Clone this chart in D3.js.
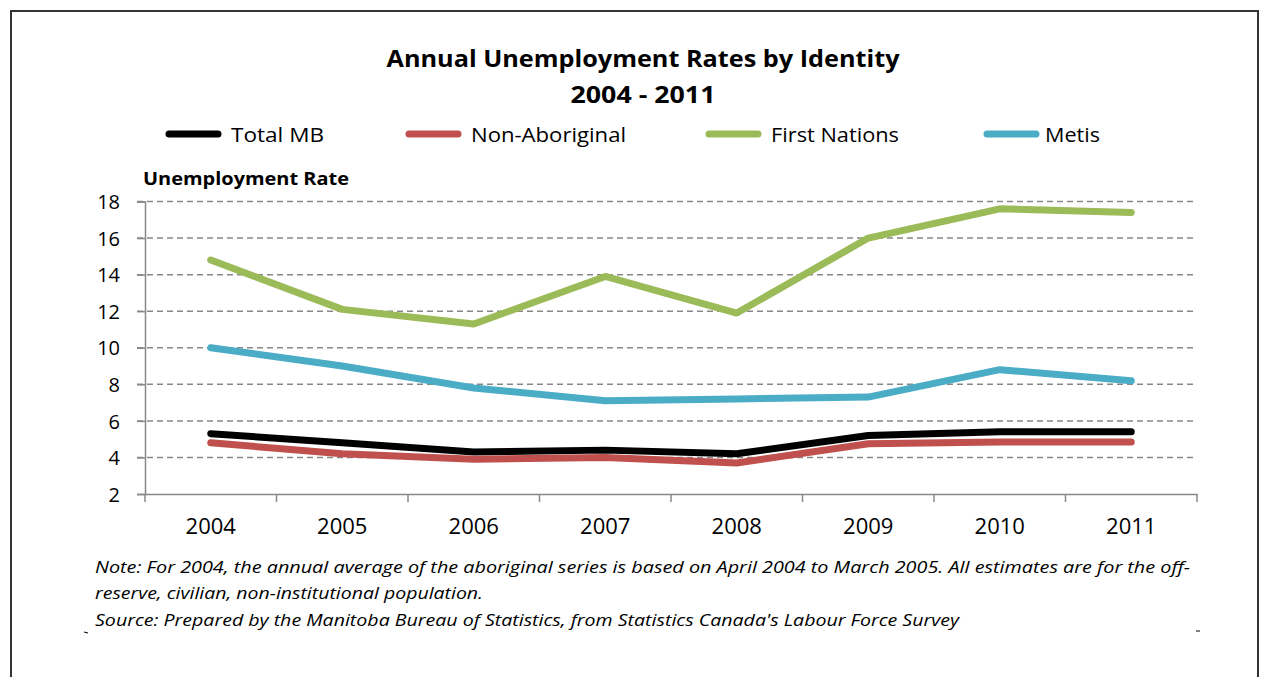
<!DOCTYPE html>
<html><head><meta charset="utf-8">
<script src="https://cdn.jsdelivr.net/npm/d3@7"></script>
<style>body{margin:0;background:#fff}svg{display:block}text{font-family:"Open Sans","Noto Sans",sans-serif;fill:#000}</style>
</head><body><svg id="c" width="1264" height="677"></svg>
<script>
const years = ["2004","2005","2006","2007","2008","2009","2010","2011"];
const totalMB = [5.3, 4.8, 4.3, 4.4, 4.2, 5.2, 5.4, 5.4];
const nonAboriginal = [4.8, 4.2, 3.9, 4.0, 3.7, 4.75, 4.85, 4.85];
const firstNations = [14.8, 12.1, 11.3, 13.9, 11.9, 16.0, 17.6, 17.4];
const metis = [10.0, 9.0, 7.8, 7.1, 7.2, 7.3, 8.8, 8.2];
const seriesNames = ["Total MB","Non-Aboriginal","First Nations","Metis"];
const yTicks = [2,4,6,8,10,12,14,16,18];

const series = [
  {name: seriesNames[0], values: totalMB, color: "#000000"},
  {name: seriesNames[1], values: nonAboriginal, color: "#C0504D"},
  {name: seriesNames[2], values: firstNations, color: "#9BBB59"},
  {name: seriesNames[3], values: metis, color: "#4BACC6"}
];

const svg = d3.select("#c");
svg.append("rect").attr("x",11).attr("y",11).attr("width",1247).attr("height",700)
  .attr("fill","none").attr("stroke","#333").attr("stroke-width",2);

function txt(x,y,s,size,opts={}){
  const t = svg.append("text").attr("x",x).attr("y",y).text(s)
    .attr("font-size",size).attr("text-anchor",opts.anchor||"start");
  if(opts.bold) t.attr("font-weight","bold");
  if(opts.italic) t.attr("font-style","italic");
  if(opts.len) t.attr("textLength",opts.len).attr("lengthAdjust","spacingAndGlyphs");
  return t;
}

txt(643,67,"Annual Unemployment Rates by Identity",24,{anchor:"middle",bold:true,len:513});
txt(643,103,"2004 - 2011",24,{anchor:"middle",bold:true,len:145});

const x = d3.scaleBand().domain(years).range([145,1197]);
const y = d3.scaleLinear().domain([2,18]).range([494,201.5]);

const legX = [165,405,705,983];
const legLen = [93,155,128,55];
series.forEach((s,i)=>{
  svg.append("line").attr("x1",legX[i]+4).attr("x2",legX[i]+53).attr("y1",134).attr("y2",134)
    .attr("stroke",s.color).attr("stroke-width",7).attr("stroke-linecap","round");
  txt(legX[i]+(i==3?62:66),142,s.name,20,{len:legLen[i]});
});

txt(143,185,"Unemployment Rate",17,{bold:true,len:206});

svg.append("g").selectAll("line").data(yTicks.filter(d=>d>2)).join("line")
  .attr("x1",137).attr("x2",1197).attr("y1",d=>y(d)).attr("y2",d=>y(d))
  .attr("stroke","#888").attr("stroke-width",1.5).attr("stroke-dasharray","6,4");

const ya = svg.append("g").attr("transform","translate(145,0)")
  .call(d3.axisLeft(y).tickValues(yTicks).tickSize(8).tickPadding(17).tickFormat(d3.format("d")));
ya.select(".domain").attr("stroke","#888").attr("stroke-width",1.5);
ya.selectAll(".tick line").attr("stroke","#888").attr("stroke-width",1.5);
ya.selectAll(".tick text").attr("font-size",20).attr("font-family","Open Sans").attr("fill","#000").attr("dy","0.36em");

const xa = svg.append("g").attr("transform","translate(0,494)")
  .call(d3.axisBottom(x).tickSize(0).tickPadding(24));
xa.select(".domain").attr("stroke","#888").attr("stroke-width",1.5);
xa.selectAll(".tick text").attr("font-size",22).attr("font-family","Open Sans").attr("fill","#000");
svg.append("g").selectAll("line").data(years.concat(["end"])).join("line")
  .attr("x1",(d,i)=>145+i*x.step()).attr("x2",(d,i)=>145+i*x.step())
  .attr("y1",494).attr("y2",502).attr("stroke","#888").attr("stroke-width",1.5);

const line = d3.line().x((d,i)=>x(years[i])+x.bandwidth()/2).y(d=>y(d));
svg.append("g").selectAll("path").data(series).join("path")
  .attr("d",d=>line(d.values)).attr("fill","none")
  .attr("stroke",d=>d.color).attr("stroke-width",7)
  .attr("stroke-linecap","round").attr("stroke-linejoin","round");

txt(95,573,"Note: For 2004, the annual average of the aboriginal series is based on April 2004 to March 2005.  All estimates are for the off-",17,{italic:true,len:1095});
txt(95,599,"reserve, civilian, non-institutional population.",17,{italic:true,len:388});
txt(95,626,"Source: Prepared by the Manitoba Bureau of Statistics, from Statistics Canada's Labour Force Survey",17,{italic:true,len:864});

svg.append("line").attr("x1",84).attr("x2",88).attr("y1",632).attr("y2",633).attr("stroke","#000");
svg.append("line").attr("x1",1196).attr("x2",1200).attr("y1",631).attr("y2",631).attr("stroke","#000");
</script></body></html>
